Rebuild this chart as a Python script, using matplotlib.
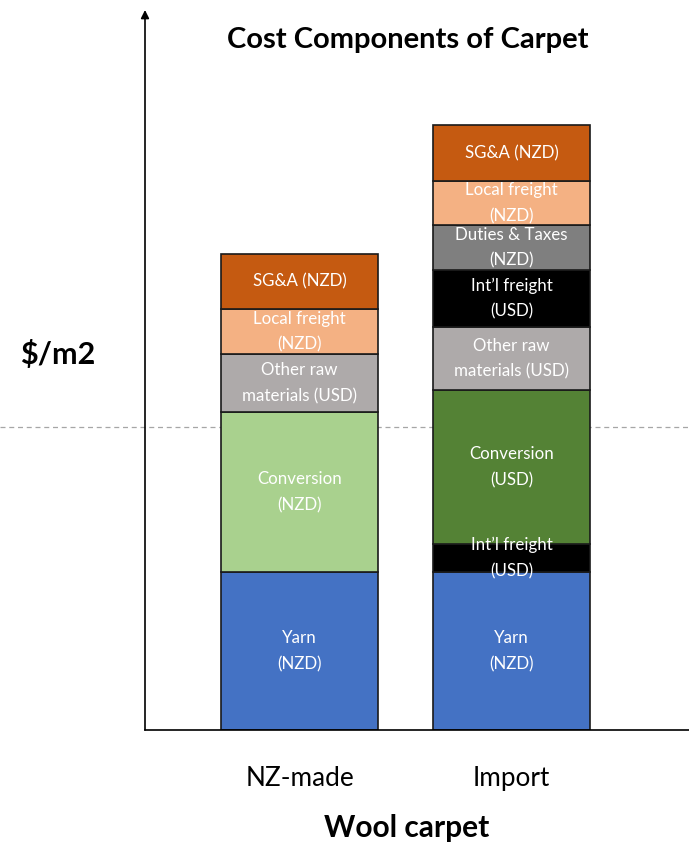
import matplotlib
matplotlib.use('Agg')
import matplotlib.pyplot as plt

# segment heights (stacked bottom to top), arbitrary $/m2 units
categories = ["NZ-made", "Import"]

nz_labels = ["Yarn\n(NZD)", "Conversion\n(NZD)", "Other raw\nmaterials (USD)",
             "Local freight\n(NZD)", "SG&A (NZD)"]
nz_values = [158, 160, 58, 45, 55]
nz_colors = ["#4472C4", "#A9D18E", "#AEAAAA", "#F4B183", "#C55A11"]

imp_labels = ["Yarn\n(NZD)", "Int\u2019l freight\n(USD)", "Conversion\n(USD)",
              "Other raw\nmaterials (USD)", "Int\u2019l freight\n(USD)",
              "Duties & Taxes\n(NZD)", "Local freight\n(NZD)", "SG&A (NZD)"]
imp_values = [158, 28, 154, 63, 57, 45, 44, 56]
imp_colors = ["#4472C4", "#000000", "#548235", "#AEAAAA", "#000000",
              "#7F7F7F", "#F4B183", "#C55A11"]

reference_level = 303

plt.rcParams['font.family'] = ['Lato', 'DejaVu Sans']

W, H = 689, 847
fig = plt.figure(figsize=(W / 100, H / 100), dpi=100)
ax = fig.add_axes([145 / W, (H - 730) / H, (W - 145) / W, 720 / H])
ax.set_xlim(0, 544)
ax.set_ylim(0, 720)

positions = [154.5, 366.5]
bar_w = 157

for pos, vals, cols, labs in [(positions[0], nz_values, nz_colors, nz_labels),
                              (positions[1], imp_values, imp_colors, imp_labels)]:
    bottom = 0
    for v, c, lab in zip(vals, cols, labs):
        ax.bar(pos, v, width=bar_w, bottom=bottom, color=c,
               edgecolor="#1a1a1a", linewidth=1.2, zorder=2)
        ax.text(pos, bottom + v / 2, lab, ha="center", va="center",
                color="white", fontsize=12.2, linespacing=1.75, zorder=3)
        bottom += v

ax.axhline(reference_level, xmin=-145 / 544, xmax=1, color="#A6A6A6",
           linestyle=(0, (4, 3)), linewidth=0.9, clip_on=False, zorder=1)

for s in ["top", "right", "left"]:
    ax.spines[s].set_visible(False)
ax.spines["bottom"].set_linewidth(1.2)
ax.annotate("", xy=(0, 1.0), xytext=(0, 0), xycoords="axes fraction",
            arrowprops=dict(arrowstyle="-|>", color="black", lw=1.2,
                            mutation_scale=12, shrinkA=0, shrinkB=0))

ax.set_yticks([])
ax.set_xticks(positions)
ax.set_xticklabels(categories, fontsize=18.8)
ax.tick_params(axis="x", length=0, pad=26)

fig.text(408 / W, 1 - 40 / H, "Cost Components of Carpet", ha="center",
         va="center", fontsize=21, fontweight="bold")
fig.text(58 / W, 1 - 355 / H, "$/m2", ha="center", va="center",
         fontsize=22, fontweight="bold")
fig.text(407 / W, 1 - 828 / H, "Wool carpet", ha="center", va="center",
         fontsize=21.5, fontweight="bold")

fig.savefig("out.png", dpi=100)
